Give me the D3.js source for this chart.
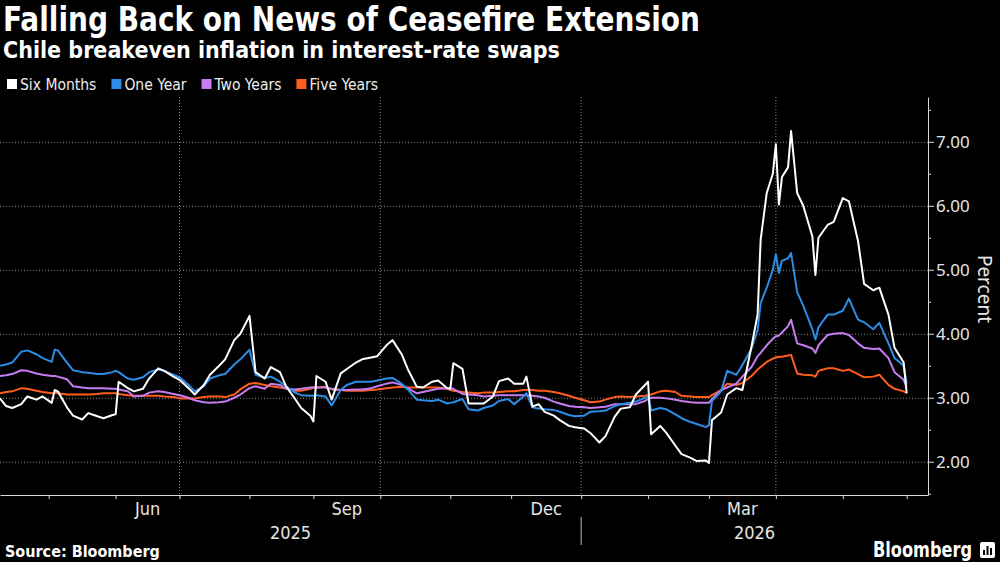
<!DOCTYPE html>
<html>
<head>
<meta charset="utf-8">
<script src="https://cdn.jsdelivr.net/npm/d3@7"></script>
<style>
  html, body { margin: 0; padding: 0; background: #000; }
  svg { display: block; }
</style>
</head>
<body>
<svg id="chart" width="1000" height="562"></svg>
<script>
const dates = [
  '2025-04-09','2025-04-11','2025-04-15','2025-04-18','2025-04-22','2025-04-25','2025-04-29','2025-05-02','2025-05-05','2025-05-06',
  '2025-05-09','2025-05-13','2025-05-16','2025-05-20','2025-05-23','2025-05-27','2025-05-30','2025-06-02','2025-06-03','2025-06-06',
  '2025-06-10','2025-06-13','2025-06-17','2025-06-20','2025-06-24','2025-06-27','2025-07-01','2025-07-04','2025-07-08','2025-07-11',
  '2025-07-15','2025-07-18','2025-07-22','2025-07-25','2025-07-29','2025-08-01','2025-08-05','2025-08-08','2025-08-12','2025-08-15',
  '2025-08-19','2025-08-22','2025-08-26','2025-08-29','2025-09-01','2025-09-02','2025-09-05','2025-09-09','2025-09-12','2025-09-16',
  '2025-09-19','2025-09-23','2025-09-26','2025-09-30','2025-10-03','2025-10-07','2025-10-10','2025-10-14','2025-10-17','2025-10-21',
  '2025-10-24','2025-10-28','2025-10-31','2025-11-03','2025-11-04','2025-11-07','2025-11-11','2025-11-14','2025-11-18','2025-11-21',
  '2025-11-25','2025-11-28','2025-12-02','2025-12-05','2025-12-08','2025-12-10','2025-12-12','2025-12-16','2025-12-19','2025-12-23',
  '2025-12-26','2025-12-30','2026-01-02','2026-01-06','2026-01-09','2026-01-13','2026-01-16','2026-01-20','2026-01-23','2026-01-27',
  '2026-01-30','2026-02-02','2026-02-03','2026-02-06','2026-02-10','2026-02-13','2026-02-17','2026-02-20','2026-02-24','2026-02-27',
  '2026-03-02','2026-03-03','2026-03-06','2026-03-10','2026-03-13','2026-03-17','2026-03-20','2026-03-24','2026-03-25','2026-03-27',
  '2026-03-31','2026-04-01','2026-04-02','2026-04-03','2026-04-07','2026-04-08','2026-04-10','2026-04-14','2026-04-17','2026-04-20',
  '2026-04-21','2026-04-24','2026-04-28','2026-05-01','2026-05-05','2026-05-08','2026-05-12','2026-05-15','2026-05-19','2026-05-22',
  '2026-05-26','2026-05-29','2026-06-01'
];

const sixMonths = [
  2.99, 2.87, 2.84, 2.90, 3.02, 2.97, 3.02, 2.92, 3.12, 3.10,
  2.85, 2.72, 2.66, 2.76, 2.71, 2.68, 2.73, 2.74, 3.25, 3.15,
  3.10, 3.14, 3.30, 3.46, 3.42, 3.33, 3.28, 3.15, 3.05, 3.20,
  3.36, 3.50, 3.60, 3.90, 4.00, 4.28, 3.40, 3.30, 3.48, 3.40,
  3.18, 2.98, 2.84, 2.72, 2.63, 3.34, 3.25, 2.97, 3.38, 3.45,
  3.55, 3.60, 3.63, 3.65, 3.82, 3.90, 3.68, 3.45, 3.17, 3.16,
  3.25, 3.27, 3.15, 3.14, 3.54, 3.45, 2.91, 2.91, 2.91, 3.02,
  3.26, 3.30, 3.22, 3.22, 3.33, 2.86, 2.90, 2.78, 2.72, 2.65,
  2.56, 2.54, 2.52, 2.45, 2.30, 2.40, 2.70, 2.83, 2.85, 3.05,
  3.20, 3.25, 2.43, 2.56, 2.45, 2.25, 2.12, 2.06, 2.01, 2.02,
  1.98, 2.65, 2.77, 3.05, 3.15, 3.12, 3.80, 4.30, 5.47, 6.20,
  6.50, 6.96, 6.02, 6.45, 6.60, 7.17, 6.20, 6.00, 5.52, 4.92,
  5.50, 5.70, 5.75, 6.12, 6.07, 5.45, 4.78, 4.68, 4.72, 4.30,
  3.78, 3.55, 3.07
];

const oneYear = [
  3.50, 3.52, 3.55, 3.72, 3.74, 3.68, 3.62, 3.56, 3.75, 3.74,
  3.55, 3.43, 3.40, 3.39, 3.37, 3.37, 3.40, 3.42, 3.40, 3.30,
  3.28, 3.32, 3.40, 3.44, 3.42, 3.36, 3.32, 3.20, 3.10, 3.18,
  3.30, 3.35, 3.37, 3.52, 3.60, 3.75, 3.36, 3.31, 3.33, 3.25,
  3.18, 3.08, 3.04, 3.03, 3.03, 3.04, 3.02, 2.88, 3.12, 3.20,
  3.25, 3.25, 3.25, 3.27, 3.30, 3.31, 3.22, 3.13, 2.97, 2.96,
  2.95, 2.97, 2.91, 2.92, 2.93, 2.98, 2.82, 2.80, 2.84, 2.88,
  2.95, 2.98, 2.90, 3.02, 3.07, 2.85, 2.83, 2.82, 2.81, 2.78,
  2.73, 2.71, 2.72, 2.78, 2.79, 2.80, 2.87, 2.90, 2.92, 2.94,
  3.00, 3.02, 2.80, 2.84, 2.82, 2.74, 2.68, 2.62, 2.59, 2.54,
  2.57, 2.95, 3.10, 3.42, 3.36, 3.51, 3.77, 4.05, 4.48, 4.72,
  5.00, 5.24, 4.95, 5.14, 5.18, 5.26, 4.65, 4.44, 4.07, 3.91,
  4.10, 4.30, 4.30, 4.36, 4.55, 4.22, 4.18, 4.07, 4.17, 3.85,
  3.62, 3.50, 3.22
];

const twoYears = [
  3.34, 3.35, 3.37, 3.43, 3.42, 3.38, 3.36, 3.34, 3.34, 3.33,
  3.29, 3.18, 3.16, 3.15, 3.15, 3.15, 3.14, 3.14, 3.13, 3.10,
  3.02, 3.03, 3.08, 3.10, 3.09, 3.06, 3.04, 3.00, 2.96, 2.93,
  2.92, 2.93, 2.94, 3.00, 3.05, 3.15, 3.18, 3.14, 3.22, 3.20,
  3.14, 3.13, 3.14, 3.16, 3.16, 3.16, 3.16, 3.14, 3.12, 3.12,
  3.13, 3.13, 3.15, 3.18, 3.22, 3.24, 3.20, 3.15, 3.07, 3.09,
  3.12, 3.14, 3.15, 3.15, 3.14, 3.06, 3.05, 3.04, 3.02, 3.03,
  3.04, 3.04, 3.04, 3.04, 3.04, 3.03, 3.02, 3.00, 2.94, 2.91,
  2.87, 2.86, 2.85, 2.84, 2.85, 2.86, 2.90, 2.90, 2.90, 2.90,
  2.95, 2.98, 3.00, 3.00, 2.99, 2.97, 2.95, 2.93, 2.92, 2.92,
  2.92, 2.98, 3.12, 3.16, 3.22, 3.33, 3.48, 3.65, 3.70, 3.82,
  3.92, 3.96, 3.97, 4.02, 4.12, 4.22, 3.85, 3.82, 3.77, 3.70,
  3.82, 3.98, 4.00, 4.01, 3.98, 3.85, 3.78, 3.76, 3.77, 3.62,
  3.40, 3.28, 3.17
];

const fiveYears = [
  3.07, 3.09, 3.10, 3.15, 3.14, 3.11, 3.09, 3.07, 3.08, 3.07,
  3.05, 3.05, 3.05, 3.05, 3.06, 3.07, 3.07, 3.07, 3.06, 3.04,
  3.03, 3.03, 3.03, 3.03, 3.02, 3.01, 2.99, 2.99, 2.99, 3.01,
  3.02, 3.02, 3.01, 3.05, 3.13, 3.22, 3.23, 3.20, 3.18, 3.16,
  3.15, 3.11, 3.11, 3.14, 3.16, 3.16, 3.17, 3.13, 3.12, 3.11,
  3.11, 3.11, 3.12, 3.13, 3.15, 3.16, 3.17, 3.16, 3.16, 3.16,
  3.16, 3.16, 3.14, 3.12, 3.11, 3.09, 3.08, 3.07, 3.08, 3.08,
  3.09, 3.10, 3.10, 3.12, 3.12, 3.12, 3.11, 3.11, 3.09, 3.07,
  3.03, 3.00, 2.96, 2.93, 2.94, 2.97, 3.01, 3.02, 3.01, 3.02,
  3.03, 3.04, 3.05, 3.10, 3.11, 3.09, 3.03, 3.02, 3.01, 3.01,
  3.01, 3.04, 3.12, 3.22, 3.20, 3.23, 3.34, 3.44, 3.48, 3.56,
  3.61, 3.63, 3.64, 3.64, 3.66, 3.67, 3.38, 3.36, 3.35, 3.33,
  3.42, 3.46, 3.46, 3.42, 3.44, 3.37, 3.32, 3.33, 3.36, 3.20,
  3.14, 3.10, 3.07
];

const seriesNames = ['Six Months', 'One Year', 'Two Years', 'Five Years'];
const seriesColors = ['#ffffff', '#2b8de6', '#c57df2', '#ff5d1c'];

const yTicks = [2, 3, 4, 5, 6, 7];
const yMinorTicks = [1.5, 2.5, 3.5, 4.5, 5.5, 6.5, 7.5];
const monthTicks = [
  '2025-05-01','2025-06-01','2025-07-01','2025-08-01','2025-09-01','2025-10-01','2025-11-01',
  '2025-12-01','2026-01-01','2026-02-01','2026-03-01','2026-04-01','2026-05-01','2026-06-01'
];
const labelMonths = ['2025-06-01', '2025-09-01', '2025-12-01', '2026-03-01'];
const monthLabels = ['Jun', 'Sep', 'Dec', 'Mar'];
const gridDates = ['2025-07-01', '2025-10-01', '2026-01-01', '2026-04-01'];
const yearLabels = ['2025', '2026'];
const yearBreak = '2026-01-01';

const parse = d3.timeParse('%Y-%m-%d');
const origin = parse('2025-05-01');

// Bloomberg spaces the x axis by trading day, so count weekdays from origin
function bizIndex(d) {
  let lo = d < origin ? d : origin;
  let hi = d < origin ? origin : d;
  let n = d3.timeDay.range(lo, hi).filter(t => t.getDay() % 6 !== 0).length;
  return d < origin ? -n : n;
}

const svg = d3.select('#chart');
const plotRight = 928, plotTop = 97, plotBottom = 495;

const x = d3.scaleLinear().domain([-16, 289]).range([0, plotRight]);
const y = d3.scaleLinear().domain([1.48, 7.7]).range([plotBottom, plotTop]);

const narrow = "'Liberation Sans Narrow', 'Arial Narrow', 'DejaVu Sans Condensed', sans-serif";
const plain = "'Noto Sans', 'Open Sans', sans-serif";

function fit(sel, width) {
  let w = sel.node().getComputedTextLength();
  if (Math.abs(w - width) > 4) {
    sel.attr('textLength', width).attr('lengthAdjust', 'spacingAndGlyphs');
  }
}

// titles
svg.append('text')
  .attr('x', 3).attr('y', 31)
  .style('font-family', narrow).style('font-weight', 'bold').style('font-size', '34px')
  .style('fill', '#fff')
  .text('Falling Back on News of Ceasefire Extension')
  .call(fit, 697);

svg.append('text')
  .attr('x', 3).attr('y', 58)
  .style('font-family', narrow).style('font-weight', 'bold').style('font-size', '23px')
  .style('fill', '#fff')
  .text('Chile breakeven inflation in interest-rate swaps')
  .call(fit, 557);

// legend
let legend = svg.append('g').attr('transform', 'translate(7,84)');
let lx = 0;
seriesNames.forEach(function(name, i) {
  let item = legend.append('g').attr('transform', 'translate(' + lx + ',0)');
  item.append('rect')
    .attr('x', 0).attr('y', -5).attr('width', 10).attr('height', 10)
    .style('fill', seriesColors[i]);
  let t = item.append('text')
    .attr('x', 13).attr('dy', '0.36em')
    .style('font-family', narrow).style('font-size', '15.5px')
    .style('fill', '#eeeeee')
    .text(name);
  lx += 13 + t.node().getComputedTextLength() + 15;
});

// horizontal grid
svg.append('g')
  .attr('class', 'y-grid')
  .attr('transform', 'translate(' + plotRight + ',0)')
  .call(d3.axisLeft(y).tickValues(yTicks).tickSize(plotRight).tickFormat(''))
  .call(g => g.select('.domain').remove())
  .selectAll('line')
  .style('stroke', '#8a8a8a').style('stroke-dasharray', '1,2');

// vertical quarter grid
svg.append('g')
  .attr('class', 'x-grid')
  .selectAll('line')
  .data(gridDates.map(parse))
  .enter().append('line')
  .attr('x1', d => x(bizIndex(d))).attr('x2', d => x(bizIndex(d)))
  .attr('y1', plotTop).attr('y2', plotBottom)
  .style('stroke', '#8a8a8a').style('stroke-dasharray', '1,2');

// series lines, Six Months drawn last so it sits on top
let points = dates.map(parse).map(bizIndex);
let allSeries = [sixMonths, oneYear, twoYears, fiveYears];
let line = d3.line()
  .x(d => x(d[0]))
  .y(d => y(d[1]));

svg.append('g')
  .attr('class', 'lines')
  .selectAll('path')
  .data(allSeries.map((s, i) => ({ values: s.map((v, j) => [points[j], v]), color: seriesColors[i] })).reverse())
  .enter().append('path')
  .attr('d', d => line(d.values))
  .style('fill', 'none')
  .style('stroke', d => d.color)
  .style('stroke-width', 2)
  .style('stroke-linejoin', 'round');

// right axis
let yAxis = svg.append('g')
  .attr('class', 'y-axis')
  .attr('transform', 'translate(' + plotRight + ',0)')
  .call(d3.axisRight(y).tickValues(yTicks).tickSize(6).tickSizeOuter(0).tickPadding(2)
    .tickFormat(d3.format('.2f')));
yAxis.select('.domain').style('stroke', '#d8d8d8');
yAxis.selectAll('line').style('stroke', '#d8d8d8');
yAxis.selectAll('text')
  .style('font-family', plain).style('font-size', '17px').style('fill', '#e6e6e6');

svg.append('g')
  .attr('transform', 'translate(' + plotRight + ',0)')
  .call(d3.axisRight(y).tickValues(yMinorTicks).tickSize(3).tickFormat(''))
  .call(g => g.select('.domain').remove())
  .selectAll('line').style('stroke', '#d8d8d8');

svg.append('text')
  .attr('transform', 'translate(978,' + y(4.7) + ') rotate(90)')
  .attr('text-anchor', 'middle')
  .style('font-family', plain).style('font-size', '19px').style('fill', '#e6e6e6')
  .text('Percent');

// bottom axis
let xAxis = svg.append('g')
  .attr('class', 'x-axis')
  .attr('transform', 'translate(0,' + plotBottom + ')')
  .call(d3.axisBottom(x).tickValues(monthTicks.map(d => bizIndex(parse(d))))
    .tickSize(4).tickSizeOuter(0).tickFormat(''));
xAxis.select('.domain').style('stroke', '#d8d8d8');
xAxis.selectAll('line').style('stroke', '#d8d8d8');

svg.append('g')
  .attr('class', 'month-labels')
  .selectAll('text')
  .data(labelMonths.map(parse))
  .enter().append('text')
  .attr('x', d => x((bizIndex(d) + bizIndex(d3.timeMonth.offset(d, 1))) / 2))
  .attr('y', 515)
  .attr('text-anchor', 'middle')
  .style('font-family', narrow).style('font-size', '18px').style('fill', '#e6e6e6')
  .text((d, i) => monthLabels[i]);

let breakX = x(bizIndex(parse(yearBreak)));
svg.append('line')
  .attr('x1', breakX).attr('x2', breakX)
  .attr('y1', 517).attr('y2', 545)
  .style('stroke', '#bdbdbd');

svg.append('g')
  .attr('class', 'year-labels')
  .selectAll('text')
  .data(yearLabels)
  .enter().append('text')
  .attr('x', (d, i) => i === 0 ? breakX / 2 : (breakX + plotRight) / 2)
  .attr('y', 539)
  .attr('text-anchor', 'middle')
  .style('font-family', narrow).style('font-size', '18px').style('fill', '#e6e6e6')
  .text(d => d);

// footer
svg.append('text')
  .attr('x', 5).attr('y', 557)
  .style('font-family', narrow).style('font-weight', 'bold').style('font-size', '16px')
  .style('fill', '#fff')
  .text('Source: Bloomberg')
  .call(fit, 153);

svg.append('text')
  .attr('x', 873).attr('y', 557)
  .style('font-family', narrow).style('font-weight', 'bold').style('font-size', '21px')
  .style('fill', '#fff')
  .text('Bloomberg')
  .call(fit, 99);

let logo = svg.append('g').attr('transform', 'translate(980,542)');
logo.append('rect')
  .attr('width', 15).attr('height', 16).attr('rx', 2)
  .style('fill', '#fff');
logo.selectAll('.bar')
  .data([5, 9, 7])
  .enter().append('rect')
  .attr('x', (d, i) => 3 + i * 3.5).attr('y', d => 13 - d)
  .attr('width', 2).attr('height', d => d)
  .style('fill', '#000');
</script>
</body>
</html>
